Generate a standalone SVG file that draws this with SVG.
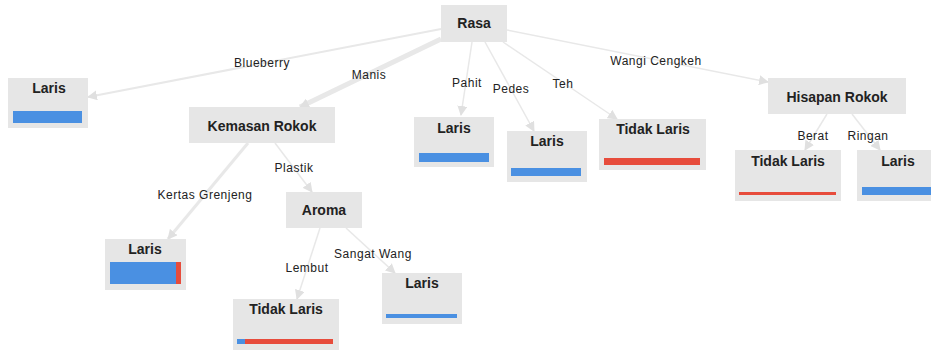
<svg xmlns="http://www.w3.org/2000/svg" width="931" height="352" viewBox="0 0 931 352">
<style>
.box{fill:#e6e6e6}
.nt{font-family:"Liberation Sans",Arial,sans-serif;font-weight:bold;font-size:14px;fill:#222;text-anchor:middle}
.et{font-family:"Liberation Sans",Arial,sans-serif;font-size:12px;fill:#222;text-anchor:middle;letter-spacing:0.5px}
.e{stroke:#e8e8e8;fill:none}
.blue{fill:#4a90e2}
.red{fill:#e74c3c}
</style>
<defs>
<marker id="ah" viewBox="0 0 10 10" refX="9" refY="5" markerWidth="10" markerHeight="10" markerUnits="userSpaceOnUse" orient="auto">
<path d="M0,0 L10,5 L0,10 z" fill="#e0e0e0"/>
</marker>
</defs>
<rect width="931" height="352" fill="#fff"/>
<g id="connectors">
<path class="e" stroke-width="2" d="M441,29 L88,97" marker-end="url(#ah)"/>
<path class="e" stroke-width="5" d="M441,39 L300,107" marker-end="url(#ah)"/>
<path class="e" stroke-width="1.5" d="M472,42 L461,115" marker-end="url(#ah)"/>
<path class="e" stroke-width="1.5" d="M485,42 L534,131" marker-end="url(#ah)"/>
<path class="e" stroke-width="1.5" d="M503,42 L617,119" marker-end="url(#ah)"/>
<path class="e" stroke-width="1.5" d="M507,30 L768,82" marker-end="url(#ah)"/>
<path class="e" stroke-width="1.5" d="M827,114 L805,150" marker-end="url(#ah)"/>
<path class="e" stroke-width="1.5" d="M852,114 L880,150" marker-end="url(#ah)"/>
<path class="e" stroke-width="1.5" d="M275,143 L312,192" marker-end="url(#ah)"/>
<path class="e" stroke-width="3" d="M248,143 L168,239" marker-end="url(#ah)"/>
<path class="e" stroke-width="1.5" d="M320,228 L297,299" marker-end="url(#ah)"/>
<path class="e" stroke-width="1.5" d="M346,228 L395,273" marker-end="url(#ah)"/>
<text class="et" x="262" y="67">Blueberry</text>
<text class="et" x="369" y="79">Manis</text>
<text class="et" x="467" y="87">Pahit</text>
<text class="et" x="511" y="93">Pedes</text>
<text class="et" x="563" y="88">Teh</text>
<text class="et" x="656" y="65">Wangi Cengkeh</text>
<text class="et" x="813" y="140">Berat</text>
<text class="et" x="868" y="140">Ringan</text>
<text class="et" x="294" y="172">Plastik</text>
<text class="et" x="205" y="199">Kertas Grenjeng</text>
<text class="et" x="307" y="272">Lembut</text>
<text class="et" x="373" y="258">Sangat Wang</text>
</g>
<g id="rasa">
<rect class="box" x="441" y="5" width="66" height="37"/>
<text class="nt" x="474" y="28">Rasa</text>
</g>
<g id="laris-blueberry">
<rect class="box" x="8" y="78" width="80" height="50"/>
<text class="nt" x="49" y="93">Laris</text>
<rect class="blue" x="13" y="111" width="69" height="12"/>
</g>
<g id="kemasan-rokok">
<rect class="box" x="189" y="107" width="146" height="36"/>
<text class="nt" x="262" y="131">Kemasan Rokok</text>
</g>
<g id="laris-pahit">
<rect class="box" x="414" y="117" width="80" height="50"/>
<text class="nt" x="454" y="133">Laris</text>
<rect class="blue" x="419" y="153" width="70" height="9"/>
</g>
<g id="laris-pedes">
<rect class="box" x="507" y="131" width="80" height="51"/>
<text class="nt" x="547" y="146">Laris</text>
<rect class="blue" x="511" y="168" width="70" height="8"/>
</g>
<g id="tidak-laris-teh">
<rect class="box" x="599" y="119" width="107" height="51"/>
<text class="nt" x="653" y="134">Tidak Laris</text>
<rect class="red" x="604" y="158" width="96" height="7"/>
</g>
<g id="hisapan-rokok">
<rect class="box" x="768" y="78" width="138" height="36"/>
<text class="nt" x="837" y="102">Hisapan Rokok</text>
</g>
<g id="tidak-laris-berat">
<rect class="box" x="735" y="150" width="106" height="51"/>
<text class="nt" x="788" y="166">Tidak Laris</text>
<rect class="red" x="739" y="192" width="97" height="3"/>
</g>
<g id="laris-ringan">
<rect class="box" x="857" y="150" width="80" height="51"/>
<text class="nt" x="898" y="166">Laris</text>
<rect class="blue" x="862" y="187" width="70" height="8"/>
</g>
<g id="aroma">
<rect class="box" x="286" y="192" width="76" height="36"/>
<text class="nt" x="324" y="215">Aroma</text>
</g>
<g id="laris-kertas">
<rect class="box" x="105" y="239" width="81" height="51"/>
<text class="nt" x="145" y="254">Laris</text>
<rect class="blue" x="110" y="262" width="66" height="22"/>
<rect class="red" x="176" y="262" width="5" height="22"/>
</g>
<g id="tidak-laris-lembut">
<rect class="box" x="233" y="299" width="106" height="51"/>
<text class="nt" x="286" y="314">Tidak Laris</text>
<rect class="blue" x="237" y="339" width="8" height="5"/>
<rect class="red" x="245" y="339" width="88" height="5"/>
</g>
<g id="laris-sangat-wang">
<rect class="box" x="382" y="273" width="80" height="51"/>
<text class="nt" x="422" y="288">Laris</text>
<rect class="blue" x="386" y="314" width="71" height="4"/>
</g>
</svg>
